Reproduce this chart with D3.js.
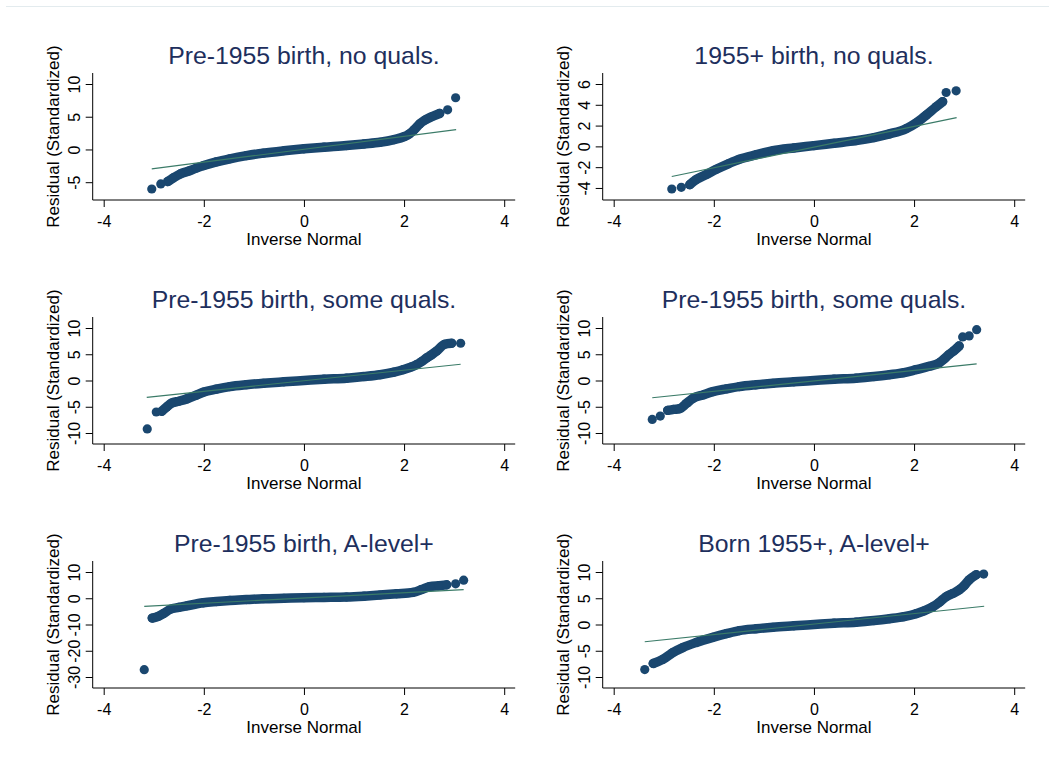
<!DOCTYPE html>
<html>
<head>
<meta charset="utf-8">
<script src="https://cdn.jsdelivr.net/npm/d3@7"></script>
<style>
  body { margin: 0; background: #fff; }
  svg { display: block; }
  text { font-family: "Liberation Sans", Arial, sans-serif; }
</style>
</head>
<body>
<svg id="chart" width="1049" height="769"></svg>
<script>
// panel titles, left to right, top to bottom
var titles = [
  "Pre-1955 birth, no quals.", "1955+ birth, no quals.",
  "Pre-1955 birth, some quals.", "Pre-1955 birth, some quals.",
  "Pre-1955 birth, A-level+", "Born 1955+, A-level+"
];

var xTicks = [-4, -2, 0, 2, 4];
var yTicks1 = [-5, 0, 5, 10];
var yTicks2 = [-4, -2, 0, 2, 4, 6];
var yTicks3 = [-10, -5, 0, 5, 10];
var yTicks4 = [-10, -5, 0, 5, 10];
var yTicks5 = [-30, -20, -10, 0, 10];
var yTicks6 = [-10, -5, 0, 5, 10];

// dense band of quantile points
var band1X = [-2.72,-2.6,-2.47,-2.3,-2.15,-2.0,-1.75,-1.48,-1.15,-0.81,-0.4,0,0.4,0.85,1.2,1.52,1.8,2.0,2.1,2.2,2.31,2.42,2.55,2.71];
var band1Y = [-4.9,-4.3,-3.74,-3.3,-2.85,-2.46,-1.9,-1.43,-0.95,-0.56,-0.2,0.1,0.35,0.6,0.85,1.1,1.5,1.95,2.35,3.0,3.9,4.5,5.0,5.5];
var band2X = [-2.48,-2.35,-2.15,-1.95,-1.7,-1.49,-1.15,-0.82,-0.4,0,0.4,0.84,1.2,1.51,1.84,2.04,2.24,2.44,2.57];
var band2Y = [-3.68,-3.19,-2.7,-2.2,-1.65,-1.24,-0.8,-0.42,-0.15,0.07,0.3,0.55,0.85,1.2,1.7,2.25,3.0,3.8,4.3];
var band3X = [-2.84,-2.74,-2.64,-2.5,-2.34,-2.15,-2.0,-1.75,-1.48,-1.15,-0.81,-0.4,0,0.4,0.85,1.2,1.52,1.8,1.98,2.15,2.25,2.35,2.45,2.55,2.65,2.81,2.95];
var band3Y = [-5.87,-5.03,-4.3,-3.95,-3.5,-2.8,-2.2,-1.65,-1.16,-0.8,-0.52,-0.25,0,0.25,0.45,0.75,1.1,1.6,2.06,2.6,3.03,3.6,4.3,4.9,5.6,6.9,7.1];
var band4X = [-2.92,-2.8,-2.68,-2.55,-2.42,-2.2,-2.02,-1.75,-1.49,-1.15,-0.82,-0.4,0,0.4,0.84,1.2,1.51,1.8,2.04,2.3,2.5,2.6,2.7,2.8,2.9];
var band4Y = [-5.68,-5.5,-5.35,-4.39,-3.42,-2.7,-2.13,-1.6,-1.16,-0.8,-0.52,-0.25,0,0.25,0.45,0.75,1.1,1.5,2.06,2.7,3.35,4.1,4.97,5.7,6.58];
var band5X = [-3.03,-2.91,-2.81,-2.67,-2.5,-2.34,-2.01,-1.75,-1.48,-1.15,-0.81,-0.4,0,0.4,0.85,1.2,1.52,1.85,2.18,2.35,2.51,2.7,2.85];
var band5Y = [-7.55,-6.9,-5.87,-4.19,-3.5,-2.9,-1.74,-1.25,-0.84,-0.5,-0.19,0,0.19,0.3,0.45,0.8,1.23,1.7,2.26,3.3,4.45,4.8,5.1];
var band6X = [-3.21,-3.02,-2.82,-2.62,-2.35,-2.02,-1.75,-1.49,-1.15,-0.82,-0.4,0,0.4,0.84,1.2,1.51,1.8,2.04,2.2,2.37,2.5,2.64,2.77,2.9,3.0,3.1,3.24];
var band6Y = [-7.42,-6.65,-5.35,-4.39,-3.42,-2.45,-1.75,-1.16,-0.8,-0.52,-0.25,0,0.25,0.45,0.75,1.1,1.5,2.06,2.6,3.35,4.2,5.29,5.9,6.58,7.4,8.5,9.48];

// isolated tail points
var dots1X = [-3.04,-2.86,2.87,3.03], dots1Y = [-6.04,-5.27,6.05,7.9];
var dots2X = [-2.84,-2.65,2.64,2.84], dots2Y = [-4.1,-3.94,5.18,5.34];
var dots3X = [-3.13,-2.95,3.13], dots3Y = [-9.23,-6.0,7.1];
var dots4X = [-3.23,-3.07,2.97,3.1,3.25], dots4Y = [-7.42,-6.77,8.3,8.5,9.68];
var dots5X = [-3.19,3.03,3.19], dots5Y = [-27.2,5.48,6.9];
var dots6X = [-3.38,3.39], dots6Y = [-8.58,9.6];

// reference line end points
var fit1X = [-3.04,3.04], fit1Y = [-2.97,3.02];
var fit2X = [-2.84,2.85], fit2Y = [-2.9,2.77];
var fit3X = [-3.14,3.13], fit3Y = [-3.2,3.1];
var fit4X = [-3.23,3.25], fit4Y = [-3.29,3.16];
var fit5X = [-3.19,3.19], fit5Y = [-3.1,3.3];
var fit6X = [-3.38,3.4], fit6Y = [-3.29,3.48];

function zip(xs, ys) {
  return xs.map(function (x, i) { return [x, ys[i]]; });
}

var panels = [
  {yTicks: yTicks1, band: zip(band1X, band1Y), dots: zip(dots1X, dots1Y), fit: zip(fit1X, fit1Y)},
  {yTicks: yTicks2, band: zip(band2X, band2Y), dots: zip(dots2X, dots2Y), fit: zip(fit2X, fit2Y)},
  {yTicks: yTicks3, band: zip(band3X, band3Y), dots: zip(dots3X, dots3Y), fit: zip(fit3X, fit3Y)},
  {yTicks: yTicks4, band: zip(band4X, band4Y), dots: zip(dots4X, dots4Y), fit: zip(fit4X, fit4Y)},
  {yTicks: yTicks5, band: zip(band5X, band5Y), dots: zip(dots5X, dots5Y), fit: zip(fit5X, fit5Y)},
  {yTicks: yTicks6, band: zip(band6X, band6Y), dots: zip(dots6X, dots6Y), fit: zip(fit6X, fit6Y)}
];

var svg = d3.select("#chart");
var MARK = "#1a476f", FIT = "#3b7b68", TITLE = "#1e2f5d";
var fmt = function (d) { return String(d); };   // plain hyphen minus, like the original

// faint frame line at the top
svg.append("line")
  .attr("x1", 6).attr("x2", 1049).attr("y1", 6.5).attr("y2", 6.5)
  .attr("stroke", "#e3ebee").attr("stroke-width", 1);

var colLeft = [92.7, 602.7];
var rowBottom = [200, 444, 688];
var plotW = 422.5, plotH = 127, pad = 11;

panels.forEach(function (p, i) {
  var left = colLeft[i % 2], bottom = rowBottom[Math.floor(i / 2)];
  var top = bottom - plotH, right = left + plotW;

  var allY = p.band.concat(p.dots).map(function (d) { return d[1]; });
  var lo = Math.min(p.yTicks[0], d3.min(allY));
  var hi = Math.max(p.yTicks[p.yTicks.length - 1], d3.max(allY));

  var x = d3.scaleLinear().domain([-4, 4]).range([left + pad, right - pad]);
  var y = d3.scaleLinear().domain([lo, hi]).range([bottom - pad, top + pad]);

  var g = svg.append("g");

  // y axis
  var ya = g.append("g")
    .attr("transform", "translate(" + left + ",0)")
    .call(d3.axisLeft(y).tickValues(p.yTicks).tickFormat(fmt).tickSize(7).tickSizeOuter(0));
  ya.select(".domain").remove();
  ya.selectAll("line").attr("stroke", "#000");
  ya.selectAll("text")
    .attr("x", null).attr("dy", null)
    .attr("text-anchor", "middle")
    .attr("transform", "translate(-13,0) rotate(-90)")
    .style("font-size", "16px").attr("fill", "#000");

  // x axis
  var xa = g.append("g")
    .attr("transform", "translate(0," + bottom + ")")
    .call(d3.axisBottom(x).tickValues(xTicks).tickFormat(fmt).tickSize(7).tickPadding(9).tickSizeOuter(0));
  xa.select(".domain").remove();
  xa.selectAll("line").attr("stroke", "#000");
  xa.selectAll("text").style("font-size", "16px").attr("fill", "#000");

  g.append("line").attr("x1", left).attr("x2", left).attr("y1", top).attr("y2", bottom)
    .attr("stroke", "#000");
  g.append("line").attr("x1", left).attr("x2", right).attr("y1", bottom).attr("y2", bottom)
    .attr("stroke", "#000");

  // band of points
  g.append("path")
    .datum(p.band)
    .attr("fill", "none")
    .attr("stroke", MARK)
    .attr("stroke-width", 9.5)
    .attr("stroke-linecap", "round")
    .attr("stroke-linejoin", "round")
    .attr("d", d3.line().curve(d3.curveMonotoneX)
      .x(function (d) { return x(d[0]); })
      .y(function (d) { return y(d[1]); }));

  g.selectAll(".pt")
    .data(p.band.concat(p.dots))
    .enter().append("circle")
      .attr("class", "pt")
      .attr("cx", function (d) { return x(d[0]); })
      .attr("cy", function (d) { return y(d[1]); })
      .attr("r", 4.6)
      .attr("fill", MARK);

  // reference line
  g.append("path")
    .datum(p.fit)
    .attr("fill", "none")
    .attr("stroke", FIT)
    .attr("stroke-width", 1.2)
    .attr("d", d3.line()
      .x(function (d) { return x(d[0]); })
      .y(function (d) { return y(d[1]); }));

  // titles
  g.append("text")
    .attr("x", (left + right) / 2).attr("y", top - 9)
    .attr("text-anchor", "middle")
    .style("font-size", "24.8px").attr("fill", TITLE)
    .text(titles[i]);

  g.append("text")
    .attr("x", (left + right) / 2).attr("y", bottom + 45)
    .attr("text-anchor", "middle")
    .style("font-size", "17px").attr("fill", "#000")
    .text("Inverse Normal");

  g.append("text")
    .attr("transform", "translate(" + (left - 34) + "," + ((top + bottom) / 2) + ") rotate(-90)")
    .attr("text-anchor", "middle")
    .style("font-size", "17px").attr("fill", "#000")
    .text("Residual (Standardized)");
});
</script>
</body>
</html>
